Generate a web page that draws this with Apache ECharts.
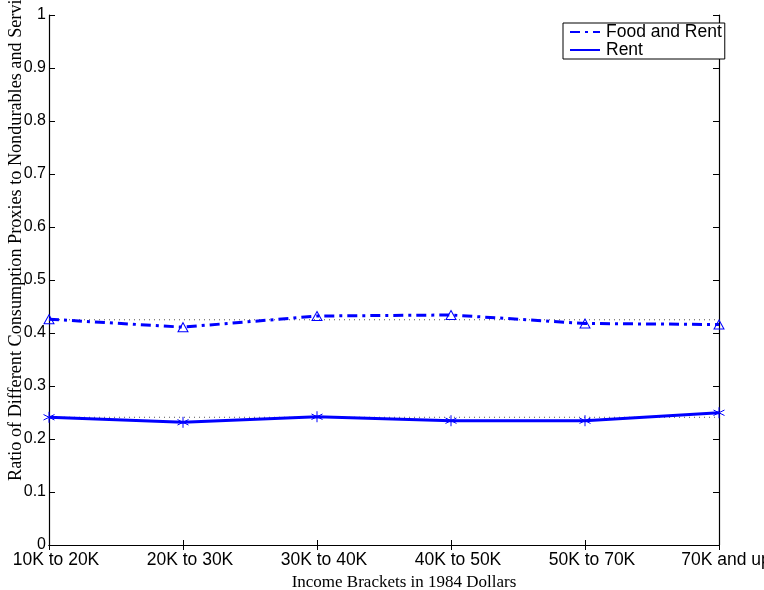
<!DOCTYPE html>
<html>
<head>
<meta charset="utf-8">
<script src="https://cdn.jsdelivr.net/npm/echarts@6/dist/echarts.min.js"></script>
<style>
  html, body { margin: 0; padding: 0; background: #fff; }
  #chart { width: 764px; height: 590px; }
</style>
</head>
<body>
<div id="chart"></div>
<script>
// income brackets (x categories)
const brackets = ['10K to 20K', '20K to 30K', '30K to 40K', '40K to 50K', '50K to 70K', '70K and up'];
// ratios
const foodAndRent = [0.426, 0.411, 0.432, 0.434, 0.418, 0.416];
const rent = [0.241, 0.2315, 0.242, 0.2345, 0.2345, 0.2495];
// dotted reference levels
const foodAndRentLevel = [0.425, 0.425, 0.425, 0.425, 0.425, 0.425];
const rentLevel = [0.241, 0.241, 0.241, 0.241, 0.241, 0.241];
const yTicks = [0, 0.1, 0.2, 0.3, 0.4, 0.5, 0.6, 0.7, 0.8, 0.9, 1];

const chart = echarts.init(document.getElementById('chart'));

const sansFont = '"Liberation Sans", Arial, Helvetica, sans-serif';
const serifFont = '"Liberation Serif", "Times New Roman", serif';
const blue = '#0000ff';
const asterisk = 'path://M0,-5L0,5M-4.33,-2.5L4.33,2.5M-4.33,2.5L4.33,-2.5';

const frameAxis = {
  axisLine: { show: true, lineStyle: { color: '#000', width: 1.2 } },
  splitLine: { show: false },
};

chart.setOption({
  animation: false,
  backgroundColor: '#fff',
  grid: { left: 49, right: 45, top: 15, bottom: 45, containLabel: false, outerBoundsMode: 'none' },
  legend: {
    left: 563,
    top: 23,
    orient: 'vertical',
    backgroundColor: '#fff',
    borderColor: '#000',
    borderWidth: 1,
    borderRadius: 0,
    padding: [0, 3, 0, 6],
    itemGap: 0,
    itemWidth: 30,
    itemHeight: 14,
    itemStyle: { opacity: 0 },
    data: ['Food and Rent', 'Rent'],
    textStyle: { fontFamily: sansFont, fontSize: 17.5, color: '#000', padding: [0, 0, 0, 1] },
  },
  xAxis: [
    {
      ...frameAxis,
      type: 'category',
      data: brackets,
      boundaryGap: false,
      name: 'Income Brackets in 1984 Dollars',
      nameLocation: 'middle',
      nameGap: 25,
      nameTextStyle: { fontFamily: serifFont, fontSize: 17, color: '#000', padding: [0, 0, 0, 40] },
      axisTick: { show: true, inside: true, length: 5, lineStyle: { color: '#000' } },
      axisLabel: {
        interval: 0,
        fontFamily: sansFont,
        fontSize: 17.5,
        color: '#000',
        margin: 6,
        padding: [0, 0, 0, 14],
      },
    },
    {
      ...frameAxis,
      type: 'category',
      data: brackets,
      boundaryGap: false,
      position: 'top',
      axisTick: { show: true, inside: true, length: 5, lineStyle: { color: '#000' } },
      axisLabel: { show: false },
    },
  ],
  yAxis: [
    {
      ...frameAxis,
      type: 'value',
      min: 0,
      max: 1,
      interval: 0.1,
      axisTick: { show: true, inside: true, length: 6, lineStyle: { color: '#000' } },
      axisLabel: {
        fontFamily: sansFont,
        fontSize: 16,
        color: '#000',
        margin: 3,
        formatter: (v) => {
          const t = yTicks.find((k) => Math.abs(k - v) < 1e-6);
          return t === undefined ? '' : String(t);
        },
      },
    },
    {
      ...frameAxis,
      type: 'value',
      min: 0,
      max: 1,
      interval: 0.1,
      position: 'right',
      axisTick: { show: true, inside: true, length: 6, lineStyle: { color: '#000' } },
      axisLabel: { show: false },
    },
  ],
  series: [
    {
      name: 'Food and Rent level',
      type: 'line',
      data: foodAndRentLevel,
      symbol: 'none',
      silent: true,
      lineStyle: { color: '#555', width: 1, type: [1, 4] },
      z: 1,
    },
    {
      name: 'Rent level',
      type: 'line',
      data: rentLevel,
      symbol: 'none',
      silent: true,
      lineStyle: { color: '#555', width: 1, type: [1, 4] },
      z: 1,
    },
    {
      name: 'Food and Rent',
      type: 'line',
      data: foodAndRent,
      symbol: 'triangle',
      symbolSize: [10, 9],
      lineStyle: { color: blue, width: 3, type: [10, 5, 3, 5] },
      itemStyle: { color: 'rgba(255,255,255,0)', borderColor: blue, borderWidth: 1 },
      z: 3,
    },
    {
      name: 'Rent',
      type: 'line',
      data: rent,
      symbol: asterisk,
      symbolSize: 11,
      lineStyle: { color: blue, width: 3 },
      itemStyle: { color: 'none', borderColor: blue, borderWidth: 1 },
      z: 3,
    },
  ],
  graphic: [
    {
      type: 'text',
      x: 25,
      y: 481,
      rotation: Math.PI / 2,
      style: {
        text: 'Ratio of Different Consumption Proxies to Nondurables and Services',
        fontFamily: serifFont,
        fontSize: 18.2,
        fill: '#000',
        textAlign: 'left',
        textVerticalAlign: 'bottom',
      },
    },
  ],
});
</script>
</body>
</html>
